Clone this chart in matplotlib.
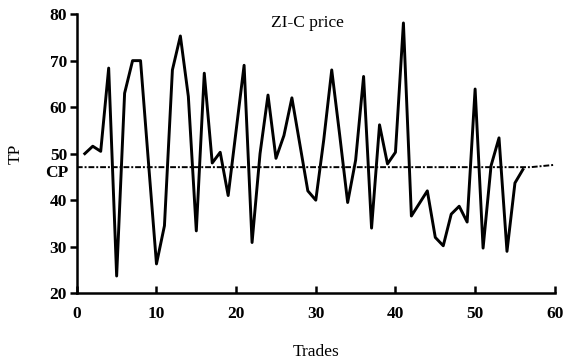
import numpy as np
import matplotlib.pyplot as plt

plt.rcParams['font.family'] = ['Liberation Serif', 'DejaVu Serif']

# transaction prices of the ZI-C traders, one per trade
trades = np.arange(1, 57)
tp = [50.0, 51.6, 50.5, 68.4, 23.7, 63.0, 70.0, 70.0, 48.0, 26.3,
      34.5, 68.0, 75.3, 62.3, 33.4, 67.3, 48.0, 50.3, 41.0, 55.0,
      69.0, 30.9, 50.0, 62.6, 49.0, 53.9, 62.0, 52.0, 42.0, 40.0,
      53.0, 68.0, 54.0, 39.5, 48.6, 66.6, 34.0, 56.2, 47.8, 50.3,
      78.1, 36.6, 39.3, 42.0, 32.0, 30.2, 37.0, 38.7, 35.3, 63.9,
      29.7, 47.4, 53.4, 29.0, 43.7, 46.6]

# competitive equilibrium price
cp_x = [0, 57, 60]
cp_y = [47.1, 47.1, 47.6]

fig = plt.figure(figsize=(5.69, 3.62), dpi=100)
ax = fig.add_axes([0.135, 0.19, 0.84, 0.771])

ax.plot(cp_x, cp_y, color='black', linewidth=1.4, linestyle=(0, (3, 1, 1, 1)))
ax.plot(trades, tp, color='black', linewidth=2.1)

ax.set_xlim(0, 60)
ax.set_ylim(20, 80)
ax.set_xticks(np.arange(0, 61, 10))
ax.set_yticks(np.arange(20, 81, 10))

for s in ['top', 'right']:
    ax.spines[s].set_visible(False)
for s in ['left', 'bottom']:
    ax.spines[s].set_linewidth(1.8)

ax.tick_params(axis='x', direction='in', length=5, width=1.8, pad=9, labelsize=12.5)
ax.tick_params(axis='y', direction='out', length=5, width=1.8, pad=2, labelsize=12.5)
for lab in ax.get_xticklabels() + ax.get_yticklabels():
    lab.set_fontweight('bold')

ax.text(29, 78.0, 'ZI-C price', ha='center', va='center', fontsize=12.5)
ax.text(-1.0, 45.9, 'CP', ha='right', va='center', fontsize=12.5, fontweight='bold')
ax.set_xlabel('Trades', fontsize=12.5, labelpad=16)
ax.set_ylabel('TP', fontsize=12.5, labelpad=19)

fig.savefig('out.png', dpi=100)
